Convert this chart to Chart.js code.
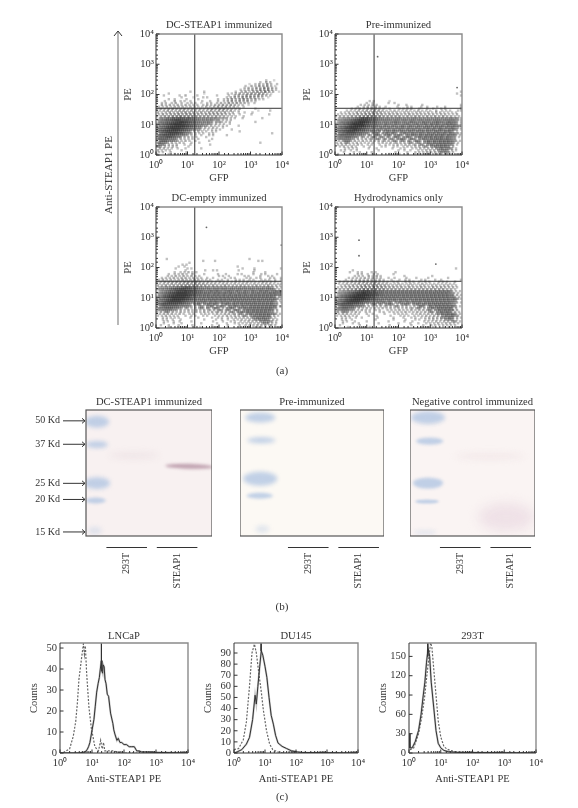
<!DOCTYPE html>
<html>
<head>
<meta charset="utf-8">
<script src="https://cdn.jsdelivr.net/npm/chart.js@4"></script>
<style>
  html, body { margin: 0; background: #fff; }
  body { position: relative; width: 578px; height: 808px; overflow: hidden; font-family: "Liberation Serif", serif; color: #333; }
  canvas { position: absolute; filter: blur(0.3px); }
  .note { position: absolute; font-size: 11px; white-space: nowrap; transform: translate(-50%, -50%); filter: blur(0.3px); }
</style>
</head>
<body>
<div class="note" style="left:108px;top:175px;transform:translate(-50%,-50%) rotate(-90deg);font-size:11px">Anti-STEAP1 PE</div>
<svg style="position:absolute;left:110px;top:26px" width="16" height="304">
  <line x1="8" y1="6" x2="8" y2="299" stroke="#888" stroke-width="1.2"/>
  <polyline points="4,10 8,5 12,10" fill="none" stroke="#333" stroke-width="1"/>
</svg>
<div class="note" style="left:282px;top:370px">(a)</div>
<div class="note" style="left:282px;top:606px">(b)</div>
<div class="note" style="left:282px;top:796px">(c)</div>
<script>
// density of the flow plots, 16 cells per decade, top row = 10^2.5, "." = empty
const gridDcSteap = [
"......................................................3...2.....",
"....................................................3..4.3.......",
"..............................................2..3.4.3.5.3..3....",
".............................................3..4.3.5.4.5.3.2....",
"...........................................3.4.3.5.4.6.5.4.3.....",
"..........................................3.3.4.5.4.6.5.6.4.3....",
"................3......3...............3..4.5.3.5.6.5.7.5.4..2...",
"......3.................2...........3.3.4.5.4.5.6.5.6.5.3.2......",
"..3.......3..4.....3.........3.....3..4.5.4.6.5.5.6.5.4.3........",
"............3.....2....3.3.........3.4.5.4.6.5.6.5.4.3..2........",
".....3..3.....3.....3.........3..3.4.5.4.5.6.5.4.5.3.3...........",
"3...3....4..3.3..3.....3...3...3..3.4.5.4.5.4.5.3.3..............",
".3.3..3.4..3..3.3.3..2..3.3..3.4.3.5.4.5.4.4.3..3................",
"..4.3.4.3.4.3.4.3.3.3..3.4.3.4.4.5.4.5.4.3.3..2..................",
"3.3.4.3.4.4.4.3.4.3.3.3.4.3.4.5.4.5.4.4.3..3.....................",
"4.4.3.4.5.4.4.5.4.4.3.4.3.4.5.4.5.5.4.3.3.4.......3.............",
"3.4.5.4.4.5.5.4.5.4.4.4.4.5.4.5.5.4.5.3.3.........2.....3........",
"4.3.4.5.4.5.5.6.5.5.4.5.4.5.5.5.4.5.3.4..3..3...3................",
"3.5.4.5.5.6.5.6.6.5.5.4.5.5.5.5.5.4.4.3..3.....3........3........",
"4.4.5.5.6.6.7.6.6.6.5.5.5.5.4.5.4.4.3.3.3...3....................",
"45456567677776776655545454545443434.3.3...3.........3............",
"44556667788877776665554545454344.3.3.3...........................",
"4555666778899887766555454544.4343.3.3............3...............",
"45566778899998877665554544543.4.3.3..3...........................",
"5566778899999887766555444.4.3.3.3.3.....3........................",
"55667889999988776655454.4.3.4.3..3...............................",
"5667788999988776655444.3.3.3.3.3.....3...........................",
"566778888887766554.4.4.3.3..3.3...........3......................",
"56677888887765544.4.3.3..3.3.............................3.......",
"5667777776655544.3.3..3...3.3......3.............................",
"566677766555.4.4.3.3....3........................................",
"56666655554.4.3.3.3..3......3....................................",
"5666555544.3.4.3..3......3.......................................",
"565554.4.3.4.3...3...3..............................3............",
"5554.4.3.4...3..3.........3......................................",
"554.4.3.4.3.....3................................................",
"4.4.3.3..3...3.......3...........................................",
"4.3.3.3.....3....................................................",
"3.3...3.......3..................................................",
"3.....3..3......................................................."
];
const gridPre = [
"................................................................",
"................................................................",
"................................................................",
"................................................................",
"................................................................",
"................................................................",
"..............................................................3.",
".............................................................3..",
"..............................................................3.",
"................................................................",
"................................................................",
".................3.3.......2....................................",
"..............3..3.......3..3....................................",
"............3.3.3.4.3..........3...3.......3....................3",
"..........3..3.4.3.4.3..3.....3....3.3....3..3....3...3..........3",
"........3.3.4.3.4.5.4.3.3..3....3.3.3.4...3...3..3...3.3........3",
"....3.3.3.4.4.5.4.5.5.4.3.3.4.3.3.4.3.3.4.3.3.3..4..3.3.3...3.3.",
"..3.3.4.3.5.4.5.5.6.5.5.4.4.4.4.3.4.4.3.4.4.3.4.3.4.4.3.3.3.3...",
"3.3.3.4.4.5.5.6.6.6.5.5.4.5.4.5.4.4.5.4.4.4.4.4.4.3.4.4.3.3.4...",
"3.4.4.4.5.5.6.6.7.7.6.6.5.5.5.5.5.4.5.4.5.5.4.5.4.5.4.5.4.4.3.3.",
"3344454556678787766655545545455545454555454545454554545455454.3..",
"34445556677888887766655555554555455545554555455545555455555544.3.",
"3455566778899988766655455545565545545655454655545565554565554.3..",
"44556677899999877665655546555465545565455645565465565455656554.3.",
"45566788999998776656554655465545654565546554655646556546556554.3.",
"45667889999887766565546554655465565465546554656546556546556544.3.",
"5566778899887766555465546554654655465565465546556546655465654.3..",
"55667788887766655465546.546546554655465546556465546655465654.3...",
"5566777776665554.5465.54654654.546554655465546556465565465544..3.",
"456666666555544.54.4654.5465.54654.55465546546556465565465554.3..",
"45556665554.44.4.454.454.54.4654.54654.546546556465565465544.3...",
"4455555544.4.3.4.34.454.45.454.54654.4654.5465546556565565544....",
"3.45554.4.3.4.3.4.3.4.34.4.454.454.54.4654.54654655656565544.3...",
"3.4.454.3.4.3.3.3.3..3.4.3.4.34.4.4.454.454.5465465565656554.3...",
"3.4.4.3.3.4.3..3.3...3..3.3.3.4.3.4.4.34.454.54654656565554.3....",
"..3.4.3.4.3...3..3.....3.3...3.3..3.4.3.4.4.454.5465565655.4.....",
"...3.3.3.3.....3...3.......3...3.3...3.3.4.3.4.4.545645554.3.....",
"..3.3..3..3..........3.........3..3..3...3.3.4.4.4.545554.4.3....",
"...3....3..3.....3...........3.....3...3.3.3.4.3.4.454544.3......",
".3.....3......3....3.......3....3...3...3.3..3.3.4.4.4.34.3......"
];
const gridEmpty = [
"................................................................",
"................................................................",
"................................................................",
".....3.........................................3................",
"......................3.....3.....................3.3...........",
"................3...............................................",
"............3.3.................................................",
"...........3..3..........................3......................",
"........3.....3.3.........................3.....3..............3",
"..............3.........3...3.3..........3.......3...............",
"........3..3.3.4.3.3............................3.....3..........",
"......3..3.3.4.3..4.....3......3...3.....3.3.....3...3.3.....3..",
"....3.3.4.3.4.3.4.3.3.........3.3..3.......3.3.....3...3.3......",
"..3.3.3.4.3.4.4.3.4.3.3..3..3.....3..3.3.....3.3..3.3....3.3...3",
"3.4.3.4.3.4.5.4.4.5.4.3.3.3...3.3..3...3.3.3..3.3...3.3.3..3..3.",
"4.3.4.4.4.5.4.5.5.5.5.4.3.4.3.3.4.3.3.3.4.3.3.4.3.3.3.4.3.3.3...",
"3.4.4.5.4.5.5.6.5.6.5.5.4.4.4.3.4.4.3.4.3.4.4.3.4.3.4.4.4.3.3.3.",
"4.4.5.4.5.5.6.6.6.6.6.5.5.4.5.4.4.5.4.4.4.5.4.4.4.5.4.4.5.4.4.3.",
"34445455566677877666555455445454545445454545545454544545544.4.3.",
"3445455667778887776665555455455545554555455545455545555455554.3.",
"3445566678888988877666555565565545565546554655465546556545565544.",
"4455667788999998877766656565565655655655465565546556556556565544",
"4456677889999998877666565655656556556556565565565656565656565543",
"4556778899999998876665656565656565656565656565656565656565655.43",
"5566778999999887766565655656565656565656565656566565656565654.3.",
"5566788999998877665655656556565565655656565656565656656565654.3.",
"5567788888887766555465565465565465565465656565656656565656544.3.",
"556777777776665554.5465.54654654.54655465546556565656565656544..",
"45666666665555544.4.454.5465.54654.5546554655465656565656565.43.",
"4555666655544.44.3.4.454.54.4654.4.54654.55465565656565656544...",
"4455555444.4.3.4.3.4.3.4.34.4.454.454.4654.5465565656565655.4...",
"4.4.454.4.3.4.3.3.3.4.3.4.3.4.34.4.4.454.5465465565656565544.3..",
"3.4.4.4.3.4.3..3.3...3.3.3.3.4.3.4.4.34.454.5465465656565554.3..",
"3.3.4.3.3.3...3..3.3...3.3...3.3.3.4.3.4.4.454.54655656565.4.3..",
"..3.3.3.3.3.....3...3......3..3.3..3.3.4.3.4.4.45465565554.3....",
"...3.3..3...3...........3.....3..3..3..3.3.4.3.4.454655654.4.3..",
"..3.3..3..3.....3..........3....3...3.3..3.3.4.4.4.5454544.3....",
"...3....3...3.........3.......3....3...3.3.3.3.4.3.4.4545.3.3...",
".3...3....3......3.........3.......3.....3..3.3.3.4.4.4.34.3....",
"......3.....3.........3........3....3.....3.3..3.3.3.3.3..3....."
];
const gridHydro = [
"................................................................",
"................................................................",
"................................................................",
"................................................................",
"................................................................",
"................................................................",
"................................................................",
"................................................................",
"...........................................................3....",
"........3.......................................................",
"......3...3.3....3.3.........3..................................",
"...........3.3..3..3.3.......3...................................",
"........3.3.3..4.3.4.3...........3.............3................",
"......3.3.3.3.4.3.4.3.3...3..3.....3....3.....3.........3.......",
"....3..3.3.4.3.4.4.3.4.3...3...3..3.3.....3.3....3..3.........3.",
"..3.3.3.4.3.4.5.4.4.5.3.3.3..3.3...3.3.3..3..3.3....3.3.3...3...",
"3.3.4.3.4.5.4.5.5.5.5.4.4.3.3.4.3.3.4.3.3.4.3.3.3.3.3.3.3.3.....",
"..3.4.4.5.4.5.6.5.6.6.5.5.4.4.4.4.3.4.4.3.4.4.3.4.4.3.4.4.3.3...",
"3.4.4.5.4.5.6.6.6.7.6.6.5.5.5.4.5.4.5.4.4.5.4.4.5.4.5.4.4.4.3...",
"3.4.4.5.5.6.6.7.7.7.7.6.6.5.5.5.5.5.5.5.5.5.5.5.5.5.5.5.4.4.3...",
"3344455566778888777666656565656565656565656565655656565654.3.3..",
"344455667788899888777666565656565656565656565656565656565544.3..",
"34556677889999998877766656565656565656565656565656565656555.4.3.",
"4456677889999998887766565656565655656565656565656565656565554.3.",
"4556778899999988776665656565655656556556565656565656565655654.3.",
"5566788999998877766565655465565465565465656565656565656565554...",
"5567788888877666555465565465.54655465465565465656565656565544.3.",
"566777777666555.4.465.54.54654.4.54654.5465465465565656565544...",
"45666666555544.4.3.4.4.34.4.454.4.4.3.4.4654.465465656565654.3..",
"4556665554.4.3.4.3.3.3.4.3.4.3.4.3.4.34.454.4.5465465656565.4...",
"445555444.3.4.3.3..3.3...3.3.3.4.3.3.4.3.4.4.454.5465565656.4...",
"34.4544.3.4.3..3.3....3.3..3.3.3.3.4.3.3.4.3.4.454.54655655.4.3.",
"3.4.4.3.3.3...3..3.....3....3.3.3.3..3.3.4.3.4.4.45465565654.3..",
"3.3.4.3.3.3.....3...3......3....3.3.3..3.3.3.4.3.4.4.546556544..",
"..3.3.3..3..3.......3.......3....3...3.3..3.3.4.4.4.5454655.4.3.",
"...3.3..3...........3........3.....3....3.3..3.3.4.3.4.54554.3..",
"..3.3...3.....3..........3.......3...3.....3.3.3.4.3.4.4.454.3..",
"...3....3..3.........3.........3.....3...3...3.3.3.4.3.4.4.3.3..",
".3.........3..............3..........3.....3...3.3.3.3.3.3.3.....",
"......3..........3.........................3.....3....3..3......"
];
const outliersPre = [[22, 1780], [7000, 170]];
const outliersEmpty = [[40, 2130], [9500, 550]];
const outliersHydro = [[5.7, 800], [5.7, 245], [1500, 130]];
const gateX = 17;
const gateY = 35;

const scatterTitles = ["DC-STEAP1 immunized", "Pre-immunized", "DC-empty immunized", "Hydrodynamics only"];
const laneNames = ["293T", "STEAP1"];

// histograms
const lncapSolidX = [1, 4, 6, 7, 7.8, 8.6, 9.8, 11.5, 12.6, 14, 15.5, 17, 18.2, 19.5, 20.4, 21.4, 22.5, 24, 25.5, 27.5, 30, 33, 38, 45, 48, 52, 60, 66, 75, 85, 100, 120, 145, 174, 210, 250, 300, 355, 575, 1000, 10000];
const lncapSolid = [0, 0, 0.5, 1.5, 3, 5, 10, 16, 22, 29, 33, 36, 40, 44, 39, 38, 42, 41, 35, 33, 28, 27, 19, 14, 11, 9, 6, 7, 5, 5, 4, 4, 3, 3, 3, 1, 1, 0.5, 0.5, 0.3, 0];
const lncapDashX = [1, 1.2, 2, 2.6, 3.1, 3.5, 3.9, 4.7, 5.4, 5.8, 6.2, 6.8, 8, 9.5, 12.3, 16, 18.6, 20.9, 23, 25, 30, 47, 80, 10000];
const lncapDash = [0, 0, 2, 8, 15, 24, 35, 45, 52, 47, 51, 38, 22, 12, 3, 1, 6, 2, 5, 1, 1, 1, 0, 0];
const du145SolidX = [1, 1.26, 1.78, 2.51, 3.16, 3.98, 4.79, 5.25, 5.89, 6.76, 7.59, 8.51, 10, 11.5, 13.5, 15.8, 18.6, 21.9, 26.3, 35.5, 50, 70.8, 112, 158, 10000];
const du145Solid = [0, 1, 3, 8, 14, 30, 52, 44, 60, 78, 92, 88, 78, 68, 50, 34, 26, 16, 9, 6, 4, 2, 1, 0.5, 0];
const du145DashX = [1, 1.41, 2, 2.51, 3.16, 3.8, 4.57, 5.25, 6.31, 7.59, 8.91, 11.2, 14.1, 17.8, 25, 39.8, 10000];
const du145Dash = [3, 4, 12, 28, 60, 90, 98, 90, 72, 55, 38, 20, 8, 3, 1, 0, 0];
const t293SolidX = [1, 1.07, 1.26, 1.58, 2, 2.4, 2.82, 3.16, 3.55, 3.98, 4.47, 5.01, 6.03, 7.08, 8.32, 10, 12.6, 17.8, 31.6, 10000];
const t293Solid = [30, 8, 8, 18, 35, 60, 90, 110, 140, 162, 150, 110, 70, 35, 15, 8, 4, 2, 1, 0];
const t293DashX = [1.07, 1.41, 2, 2.51, 3.16, 3.55, 4.17, 4.79, 5.25, 6.03, 7.08, 8.32, 10, 12.6, 15.8, 20, 28.2, 39.8, 10000];
const t293Dash = [5, 8, 30, 55, 90, 115, 145, 171, 165, 130, 90, 50, 25, 10, 6, 4, 2, 1, 0];
const histPeakX = [19.7, 7.5, 3.9];
const histPeakY = [44, 92, 150];

// blots, positions in percent of the membrane
const markerNames = ["50 Kd", "37 Kd", "25 Kd", "20 Kd", "15 Kd"];
const markerY = [8.6, 27.2, 58.2, 71, 96.8];
const blotTitles = ["DC-STEAP1 immunized", "Pre-immunized", "Negative control immunized"];
const lanesX = [[32.3, 72.3], [47.4, 82.4], [40.2, 80.6]];
const bandsX = [[8.7, 8.7, 8.7, 7.7, 7, 82, 38],
                [14, 14.8, 14, 13.7, 15.5],
                [14.4, 15.7, 14.4, 13.6, 12, 77, 64]];
const bandsY = [[9.3, 27.4, 58, 71.8, 95.7, 44.7, 36],
                [6, 24, 54.5, 68, 94.5],
                [6, 24.7, 58, 72.6, 97, 85, 36.7]];

// band looks, same order as the bands above: [width, height, colour, blur]
const blue = "rgba(178,197,226,0.8)", faintBlue = "rgba(198,210,230,0.45)";
const bandLooks = [
  [[24, 12, blue, 2], [22, 7, blue, 2], [26, 12, blue, 2], [20, 6, blue, 1.5], [14, 8, faintBlue, 2], [48, 5, "rgba(170,130,150,0.7)", 1.5], [50, 7, "rgba(232,220,224,0.5)", 3]],
  [[30, 10, blue, 2], [28, 6, blue, 2], [34, 14, blue, 2], [26, 6, blue, 1.5], [14, 8, faintBlue, 2]],
  [[34, 13, blue, 2], [27, 7, blue, 1.5], [30, 11, blue, 1.5], [24, 4, blue, 1.2], [24, 4, faintBlue, 2], [56, 28, "rgba(232,214,224,0.6)", 6], [70, 7, "rgba(238,226,228,0.55)", 3]]
];
const blotTint = ["#f8f1f1", "#fcf9f4", "#faf4f3"];

Chart.defaults.font.family = '"Liberation Serif", serif';
Chart.defaults.color = "#333";
Chart.defaults.animation = false;

const SUP = "⁰¹²³⁴";
function tenLabel(v) {
  const e = Math.log10(v);
  return Math.abs(e - Math.round(e)) < 1e-6 ? "10" + SUP[Math.round(e)] : "";
}

// rows are nudged sideways so the cells do not line up in columns
const rowNudge = [0, 1, 0.5, 1.5];
function cellsFrom(rows) {
  const pts = [];
  rows.forEach((row, i) => {
    const r = rows.length - 1 - i;
    for (let c = 0; c < row.length; c++) {
      if (row[c] === ".") continue;
      const x = Math.min(c + 0.5 + rowNudge[r % 4], 63.5);
      pts.push({ x: Math.pow(10, x / 16), y: Math.pow(10, (r + 0.5) / 16), v: +row[c] });
    }
  });
  return pts;
}
const zip = (xs, ys) => xs.map((x, i) => ({ x: x, y: ys[i] }));

function addCanvas(rect, pad) {
  const c = document.createElement("canvas");
  c.width = rect[2] - rect[0] + pad.l + pad.r;
  c.height = rect[3] - rect[1] + pad.t + pad.b;
  c.style.left = (rect[0] - pad.l) + "px";
  c.style.top = (rect[1] - pad.t) + "px";
  document.body.appendChild(c);
  return c;
}

function fixSize(size) {
  return function (s) {
    if (s.isHorizontal()) s.height = size; else s.width = size;
    s.paddingLeft = s.paddingRight = s.paddingTop = s.paddingBottom = 0;
  };
}

// axes box plus small ticks pointing into the plot
const boxPlugin = {
  id: "box",
  afterDatasetsDraw(chart) {
    const a = chart.chartArea, ctx = chart.ctx;
    ctx.save();
    ctx.strokeStyle = "#8a8a8a";
    ctx.lineWidth = 1.4;
    ctx.beginPath();
    ctx.moveTo(a.left, a.top); ctx.lineTo(a.right, a.top); ctx.lineTo(a.right, a.bottom);
    ctx.stroke();
    ctx.strokeStyle = "#333";
    ctx.lineWidth = 1;
    ctx.beginPath();
    ctx.moveTo(a.left, a.top); ctx.lineTo(a.left, a.bottom); ctx.lineTo(a.right, a.bottom);
    chart.scales.x.ticks.forEach(t => {
      const p = chart.scales.x.getPixelForValue(t.value);
      ctx.moveTo(p, a.bottom); ctx.lineTo(p, a.bottom - (t.label ? 3.5 : 2));
    });
    chart.scales.y.ticks.forEach(t => {
      const p = chart.scales.y.getPixelForValue(t.value);
      ctx.moveTo(a.left, p); ctx.lineTo(a.left + (t.label ? 3.5 : 2), p);
    });
    ctx.stroke();
    ctx.restore();
  }
};

const noGrid = { display: false, drawTicks: false };

function logAxis(titleText, size, pad) {
  return {
    type: "logarithmic", min: 1, max: 10000,
    afterFit: fixSize(size),
    grid: noGrid, border: { display: false },
    title: { display: true, text: titleText, font: { size: 10.5 }, padding: 0 },
    ticks: { autoSkip: false, minRotation: 0, maxRotation: 0, padding: pad, font: { size: 10.5 }, callback: tenLabel }
  };
}
function chartTitle(text, below) {
  return { display: true, text: text, fullSize: false, font: { size: 10.6, weight: "normal", lineHeight: "11px" }, color: "#333", padding: { top: 4 - below, bottom: below } };
}

function flowPlot(rect, title, grid, extra) {
  const pad = { l: 34, r: 14, t: 15, b: 30 };
  // chart.js paints the last dataset first, so the cells come last
  const data = [
    { data: [{ x: gateX, y: 1 }, { x: gateX, y: 10000 }], showLine: true, borderColor: "#333", borderWidth: 1, pointRadius: 0 },
    { data: [{ x: 1, y: gateY }, { x: 10000, y: gateY }], showLine: true, borderColor: "#333", borderWidth: 1, pointRadius: 0 },
    { data: extra.map(p => ({ x: p[0], y: p[1] })), pointRadius: 0.9, pointBorderWidth: 0, pointBackgroundColor: "#666" },
    { data: cellsFrom(grid), pointStyle: "rect", pointRadius: 1.7, pointBorderWidth: 0,
      pointBackgroundColor: c => "rgba(30,30,30," + (0.02 + c.raw.v * 0.085) + ")" }
  ];
  new Chart(addCanvas(rect, pad), {
    type: "scatter",
    data: { datasets: data },
    options: {
      responsive: false, parsing: false, normalized: true,
      layout: { autoPadding: false, padding: { right: pad.r } },
      plugins: { legend: { display: false }, tooltip: { enabled: false }, title: chartTitle(title, 3) },
      scales: { x: logAxis("GFP", pad.b, 4), y: logAxis("PE", pad.l, 2) }
    },
    plugins: [boxPlugin]
  });
}

flowPlot([156, 34, 282, 155], scatterTitles[0], gridDcSteap, []);
flowPlot([335, 34, 462, 155], scatterTitles[1], gridPre, outliersPre);
flowPlot([156, 207, 282, 328], scatterTitles[2], gridEmpty, outliersEmpty);
flowPlot([335, 207, 462, 328], scatterTitles[3], gridHydro, outliersHydro);

function histPlot(rect, title, yMax, step, peak, solid, dash) {
  const pad = { l: 32, r: 14, t: 15, b: 33 };
  new Chart(addCanvas(rect, pad), {
    type: "scatter",
    data: { datasets: [
      { data: [{ x: peak[0], y: yMax }, { x: peak[0], y: peak[1] }], showLine: true, borderColor: "#333", borderWidth: 1, pointRadius: 0 },
      { data: solid, showLine: true, borderColor: "#333", borderWidth: 1, pointRadius: 0 },
      { data: dash, showLine: true, borderColor: "#666", borderWidth: 1.2, borderDash: [2, 1.5], pointRadius: 0 },
      { data: solid.map(p => ({ x: p.x, y: p.y })), showLine: true, borderColor: "#c4c4c4", borderWidth: 2, pointRadius: 0 }
    ] },
    options: {
      responsive: false,
      layout: { autoPadding: false, padding: { right: pad.r } },
      plugins: { legend: { display: false }, tooltip: { enabled: false }, title: chartTitle(title, 1) },
      scales: {
        x: logAxis("Anti-STEAP1 PE", pad.b, 4),
        y: {
          type: "linear", min: 0, max: yMax, afterFit: fixSize(pad.l),
          grid: noGrid, border: { display: false },
          title: { display: true, text: "Counts", font: { size: 10.5 }, padding: 0 },
          ticks: { stepSize: step, includeBounds: false, autoSkip: false, padding: 3, font: { size: 10.5 } }
        }
      }
    },
    plugins: [boxPlugin]
  });
}

histPlot([60, 643, 188, 753], "LNCaP", 52.4, 10, [histPeakX[0], histPeakY[0]], zip(lncapSolidX, lncapSolid), zip(lncapDashX, lncapDash));
histPlot([234, 643, 358, 753], "DU145", 99, 10, [histPeakX[1], histPeakY[1]], zip(du145SolidX, du145Solid), zip(du145DashX, du145Dash));
histPlot([409, 643, 536, 753], "293T", 170.8, 30, [histPeakX[2], histPeakY[2]], zip(t293SolidX, t293Solid), zip(t293DashX, t293Dash));

function bandImage(look) {
  const m = look[3] * 3 + 2;
  const c = document.createElement("canvas");
  c.width = look[0] + 2 * m;
  c.height = look[1] + 2 * m;
  const g = c.getContext("2d");
  g.filter = "blur(" + look[3] + "px)";
  g.fillStyle = look[2];
  g.beginPath();
  g.ellipse(c.width / 2, c.height / 2, look[0] / 2, look[1] / 2, 0, 0, Math.PI * 2);
  g.fill();
  return c;
}

function blotPlot(rect, n) {
  const withMarkers = n === 0;
  const pad = { l: withMarkers ? 56 : 0, r: 0, t: 15, b: 60 };
  const images = bandLooks[n].map(bandImage);
  const halfBar = 20.3 / (rect[2] - rect[0]) * 100;
  const membrane = {
    id: "membrane",
    beforeDatasetsDraw(chart) {
      const a = chart.chartArea, ctx = chart.ctx;
      ctx.save();
      ctx.fillStyle = blotTint[n];
      ctx.fillRect(a.left, a.top, a.right - a.left, a.bottom - a.top);
      ctx.restore();
    },
    afterDatasetsDraw(chart) {
      const a = chart.chartArea, ctx = chart.ctx, sx = chart.scales.x, sy = chart.scales.y;
      ctx.save();
      ctx.strokeStyle = "#555";
      ctx.lineWidth = 1.2;
      ctx.strokeRect(a.left, a.top, a.right - a.left, a.bottom - a.top);
      ctx.lineWidth = 1;
      ctx.strokeStyle = "#333";
      ctx.beginPath();
      lanesX[n].forEach(v => {
        ctx.moveTo(sx.getPixelForValue(v - halfBar), a.bottom + 11.5);
        ctx.lineTo(sx.getPixelForValue(v + halfBar), a.bottom + 11.5);
      });
      if (withMarkers) {
        markerY.forEach(v => {
          const p = sy.getPixelForValue(v);
          ctx.moveTo(a.left - 23, p); ctx.lineTo(a.left - 1, p);
          ctx.moveTo(a.left - 4, p - 2.5); ctx.lineTo(a.left - 1, p); ctx.lineTo(a.left - 4, p + 2.5);
        });
      }
      ctx.stroke();
      ctx.restore();
    }
  };
  new Chart(addCanvas(rect, pad), {
    type: "scatter",
    data: { datasets: [{
      data: zip(bandsX[n], bandsY[n]),
      pointRadius: 5, pointStyle: c => images[c.dataIndex], pointRotation: c => c.dataIndex === 5 && n === 0 ? 1.5 : 0
    }] },
    options: {
      responsive: false,
      layout: { autoPadding: false },
      plugins: { legend: { display: false }, tooltip: { enabled: false }, title: chartTitle(blotTitles[n], 2) },
      scales: {
        x: {
          type: "linear", min: 0, max: 100, afterFit: fixSize(pad.b),
          afterBuildTicks: s => { s.ticks = lanesX[n].map(v => ({ value: v })); },
          grid: noGrid, border: { display: false },
          ticks: { autoSkip: false, minRotation: 90, maxRotation: 90, padding: 17, font: { size: 10 },
                   callback: (v, i) => laneNames[i] }
        },
        y: {
          type: "linear", min: 0, max: 100, reverse: true, display: true, afterFit: fixSize(pad.l),
          afterBuildTicks: s => { s.ticks = withMarkers ? markerY.map(v => ({ value: v })) : []; },
          grid: noGrid, border: { display: false },
          ticks: { autoSkip: false, padding: 26, font: { size: 10 }, callback: (v, i) => withMarkers ? markerNames[i] : "" }
        }
      }
    },
    plugins: [membrane]
  });
}

blotPlot([86, 410, 212, 536], 0);
blotPlot([240, 410, 384, 536], 1);
blotPlot([410, 410, 535, 536], 2);
</script>
</body>
</html>
